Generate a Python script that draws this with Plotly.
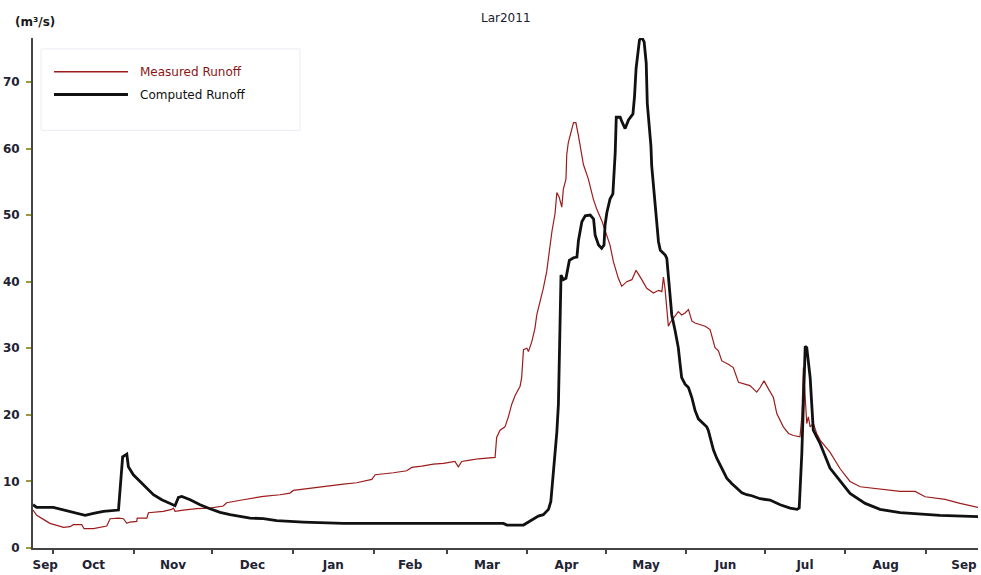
import numpy as np
import pandas as pd
import plotly.graph_objects as go

# ---- data: day offsets from 2010-10-01 and runoff values (m3/s) ----
base_date = "2010-10-01"

measured_days = [-7.7, -6.3, -3.7, -1.2, 1.4, 4.0, 6.5, 7.8, 11.0, 11.9, 15.5, 20.6, 21.9, 25.1, 27.0,
                 28.3, 29.5, 32.1, 32.3, 36.0, 36.6, 42.3, 45.5, 46.2, 46.8, 50.0, 55.1, 60.2, 65.3,
                 66.6, 73.0, 80.7, 87.1, 90.9, 92.2, 98.6, 102.4, 107.6, 111.4, 116.5, 120.4, 122.3,
                 123.6, 126.7, 130.6, 135.7, 137.6, 141.5, 145.9, 149.8, 154.2, 155.5, 156.8, 160.0,
                 163.2, 169.6, 170.2, 171.5, 173.4, 174.7, 176.0, 177.3, 179.2, 179.8, 180.5, 181.8,
                 182.4, 183.7, 184.9, 185.6, 186.9, 188.1, 189.4, 190.7, 191.4, 192.6, 193.3, 194.2,
                 195.2, 195.8, 196.8, 197.1, 197.7, 199.7, 200.6, 201.6, 203.5, 205.4, 207.3, 208.6,
                 210.5, 211.8, 213.7, 215.0, 216.9, 218.2, 220.1, 222.1, 223.7, 225.9, 227.8, 230.4,
                 232.3, 233.6, 234.2, 234.8, 236.1, 236.7, 238.7, 239.9, 241.2, 242.5, 243.8, 245.1,
                 246.3, 248.3, 250.2, 252.1, 254.0, 255.3, 256.6, 259.1, 261.0, 263.0, 265.5, 267.4,
                 268.7, 270.0, 271.3, 272.8, 274.5, 276.4, 277.7, 279.0, 280.2, 282.2, 284.1, 286.6,
                 287.3, 287.9, 288.6, 289.2, 289.8, 290.5, 291.7, 293.0, 294.3, 298.1, 302.0, 305.8,
                 309.7, 317.3, 325.0, 330.8, 334.6, 342.3, 348.0, 354.9]
measured_vals = [5.7, 4.9, 4.3, 3.7, 3.4, 3.1, 3.2, 3.5, 3.5, 2.9, 2.9, 3.3, 4.4, 4.5, 4.4,
                 3.7, 3.9, 4.0, 4.5, 4.5, 5.3, 5.5, 5.8, 6.0, 5.5, 5.7, 5.9, 6.0, 6.3,
                 6.8, 7.25, 7.75, 8.0, 8.25, 8.65, 9.0, 9.1, 9.4, 9.6, 9.8, 10.1, 10.3,
                 11.0, 11.1, 11.3, 11.6, 12.1, 12.3, 12.6, 12.7, 13.0, 12.2, 13.0, 13.2,
                 13.4, 13.6, 16.6, 17.7, 18.2, 19.7, 21.6, 22.9, 24.3, 25.6, 29.8, 30.0,
                 29.5, 31.0, 33.0, 35.0, 37.0, 39.0, 41.5, 45.5, 47.5, 50.2, 53.4, 52.7,
                 51.2, 53.9, 55.4, 59.1, 60.9, 63.9, 63.9, 61.9, 57.6, 55.4, 52.4, 50.9,
                 49.2, 47.7, 45.5, 43.0, 40.5, 39.3, 40.0, 40.3, 41.7, 40.3, 39.0, 38.3,
                 38.7, 38.5, 40.7, 39.0, 33.3, 33.8, 34.8, 35.5, 35.0, 35.3, 35.8, 34.1,
                 33.8, 33.6, 33.3, 32.8, 30.1, 29.6, 28.1, 27.6, 27.1, 24.9, 24.6, 24.4,
                 23.9, 23.4, 24.1, 25.1, 23.9, 22.6, 20.2, 19.2, 18.2, 17.2, 16.9, 16.7,
                 19.7, 27.1, 21.6, 18.7, 19.7, 18.2, 18.7, 17.2, 16.2, 14.4, 11.9, 10.0,
                 9.2, 8.8, 8.5, 8.5, 7.7, 7.3, 6.7, 6.1]

computed_days = [-7.7, -6.3, 0.1, 4.0, 10.4, 12.3, 15.5, 19.3, 25.1, 25.7, 26.7, 28.3, 28.9, 30.8,
                 33.4, 36.0, 38.5, 41.7, 44.9, 46.8, 48.1, 49.4, 52.6, 56.4, 60.2, 64.1, 67.9, 71.8,
                 75.6, 80.7, 85.8, 96.0, 111.4, 172.8, 174.1, 180.5, 182.4, 184.9, 186.2, 188.1,
                 190.1, 191.0, 191.4, 192.0, 192.6, 193.3, 193.9, 194.3, 194.5, 194.9, 195.8, 196.8,
                 198.1, 199.7, 201.0, 201.6, 202.3, 202.9, 204.2, 206.1, 207.4, 208.0, 209.3, 210.5,
                 211.4, 211.8, 212.5, 213.7, 214.8, 215.3, 215.7, 216.1, 217.6, 218.2, 219.5, 220.8,
                 222.5, 223.1, 223.7, 225.0, 225.9, 226.8, 227.6, 228.0, 228.8, 229.4, 229.7, 230.4,
                 231.0, 231.7, 232.3, 233.0, 234.9, 235.5, 236.1, 236.7, 237.4, 238.7, 239.9, 240.6,
                 241.2, 242.5, 243.8, 245.1, 246.3, 247.6, 249.5, 250.8, 251.4, 252.1, 253.4, 254.7,
                 256.0, 257.2, 258.5, 260.4, 262.4, 264.3, 266.2, 268.1, 271.3, 275.1, 279.0, 282.8,
                 285.5, 286.3, 287.3, 287.9, 288.6, 289.2, 289.8, 290.5, 291.1, 291.7, 293.0, 294.3,
                 298.1, 302.0, 305.8, 311.6, 317.3, 325.0, 332.7, 340.3, 354.9]
computed_vals = [6.5, 6.1, 6.1, 5.7, 5.0, 4.9, 5.2, 5.5, 5.7, 9.2, 13.7, 14.1, 12.2, 11.0,
                 10.0, 9.0, 8.0, 7.25, 6.65, 6.35, 7.6, 7.75, 7.25, 6.5, 5.9, 5.35, 5.0, 4.75,
                 4.5, 4.4, 4.1, 3.9, 3.7, 3.7, 3.45, 3.45, 3.9, 4.4, 4.8, 5.0,
                 5.8, 7.0, 8.7, 11.2, 13.2, 17.4, 21.6, 27.6, 33.1, 41.0, 40.3, 40.5,
                 43.2, 43.6, 43.7, 46.2, 48.0, 49.0, 49.9, 50.0, 49.4, 47.0, 45.5, 45.0,
                 45.5, 48.5, 50.4, 52.4, 53.2, 56.2, 59.4, 64.7, 64.7, 64.1, 63.0, 64.3,
                 65.2, 67.8, 72.0, 76.3, 76.7, 76.0, 72.8, 66.8, 63.3, 60.4, 57.4, 54.4,
                 52.4, 48.5, 46.0, 44.7, 44.0, 43.5, 41.0, 37.5, 35.0, 32.6, 30.1, 27.6,
                 25.6, 24.6, 24.1, 22.6, 20.7, 19.4, 18.7, 18.2, 17.7, 16.7, 14.7, 13.45,
                 12.5, 11.5, 10.5, 9.7, 9.0, 8.3, 8.0, 7.85, 7.4, 7.2, 6.5, 6.0,
                 5.8, 6.0, 14.2, 20.7, 30.3, 30.1, 28.1, 25.6, 21.6, 17.7, 16.7, 15.7,
                 12.0, 10.0, 8.2, 6.7, 5.8, 5.3, 5.1, 4.9, 4.7]

month_labels = ["Sep", "Oct", "Nov", "Dec", "Jan", "Feb", "Mar", "Apr", "May", "Jun", "Jul", "Aug", "Sep"]
month_label_dates = ["2010-09-28", "2010-10-16 12:00", "2010-11-16", "2010-12-16 12:00",
                     "2011-01-16 12:00", "2011-02-15", "2011-03-16 12:00", "2011-04-16",
                     "2011-05-16 12:00", "2011-06-16", "2011-07-16 12:00", "2011-08-16 12:00",
                     "2011-09-15 12:00"]
y_ticks = [0, 10, 20, 30, 40, 50, 60, 70]

title_text = "Lar2011"
unit_text = "(m³/s)"
series_names = ["Measured Runoff", "Computed Runoff"]

# ---- build ----
t0 = pd.Timestamp(base_date)
m_x = t0 + pd.to_timedelta(np.array(measured_days), unit="D")
c_x = t0 + pd.to_timedelta(np.array(computed_days), unit="D")

RED = "#9c1c1c"
BLACK = "#111111"

fig = go.Figure()
fig.add_trace(go.Scatter(x=m_x, y=measured_vals, mode="lines", name=series_names[0],
                         line=dict(color=RED, width=1.2), showlegend=False))
fig.add_trace(go.Scatter(x=c_x, y=computed_vals, mode="lines", name=series_names[1],
                         line=dict(color=BLACK, width=2.8), showlegend=False))

x_start = t0 + pd.to_timedelta(min(measured_days), unit="D")
x_end = t0 + pd.to_timedelta(max(measured_days), unit="D")

fig.update_layout(
    width=981, height=575,
    margin=dict(l=33, r=3, t=38, b=23, pad=0),
    paper_bgcolor="white", plot_bgcolor="white",
    font=dict(family="DejaVu Sans", color="#222233"),
    xaxis=dict(
        range=[x_start, x_end], type="date",
        showgrid=False, zeroline=False,
        showline=True, linecolor="#444444", linewidth=2,
        tickmode="array", tickvals=month_label_dates, ticktext=month_labels,
        ticks="", ticklabelstandoff=5,
        tickfont=dict(family="DejaVu Sans", size=12, weight="bold", color="#222233"),
        minor=dict(ticks="outside", ticklen=4, tickwidth=1.5, tickcolor="#444444",
                   dtick="M1", tick0="2010-10-01", showgrid=False),
    ),
    yaxis=dict(
        range=[0, 76.6],
        showgrid=False, zeroline=False,
        showline=True, linecolor="#444444", linewidth=2,
        tickmode="array", tickvals=y_ticks,
        ticks="outside", ticklen=5, tickwidth=1.5, tickcolor="#9a9a3a",
        ticklabelstandoff=4,
        tickfont=dict(family="DejaVu Sans", size=12, weight="bold", color="#222233"),
    ),
)

# title and unit label
fig.add_annotation(text=title_text, xref="paper", yref="paper", x=0.5, y=1.039,
                   showarrow=False, xanchor="center", yanchor="middle",
                   font=dict(family="DejaVu Sans", size=12, color="#1a1a33"))
fig.add_annotation(text=unit_text, xref="paper", yref="paper", x=-0.021, y=1.031,
                   showarrow=False, xanchor="left", yanchor="middle",
                   font=dict(family="DejaVu Sans", size=12, weight="bold", color="#1a1a1a"))

# legend (box, line samples, labels)
fig.add_shape(type="rect", xref="paper", yref="paper", x0=0.0085, x1=0.2825, y0=0.819, y1=0.9786,
              line=dict(color="#ececf4", width=1), fillcolor="white", layer="below")
legend_rows = [(0.9339, RED, 1.5, "#8b1515"), (0.8891, BLACK, 3, "#111111")]
for (yy, col, w, tcol), name in zip(legend_rows, series_names):
    fig.add_shape(type="line", xref="paper", yref="paper", x0=0.0222, x1=0.1005, y0=yy, y1=yy,
                  line=dict(color=col, width=w))
    fig.add_annotation(text=name, xref="paper", yref="paper", x=0.1111, y=yy,
                       showarrow=False, xanchor="left", yanchor="middle",
                       font=dict(family="DejaVu Sans", size=12, color=tcol))

fig.write_html("out.html")
